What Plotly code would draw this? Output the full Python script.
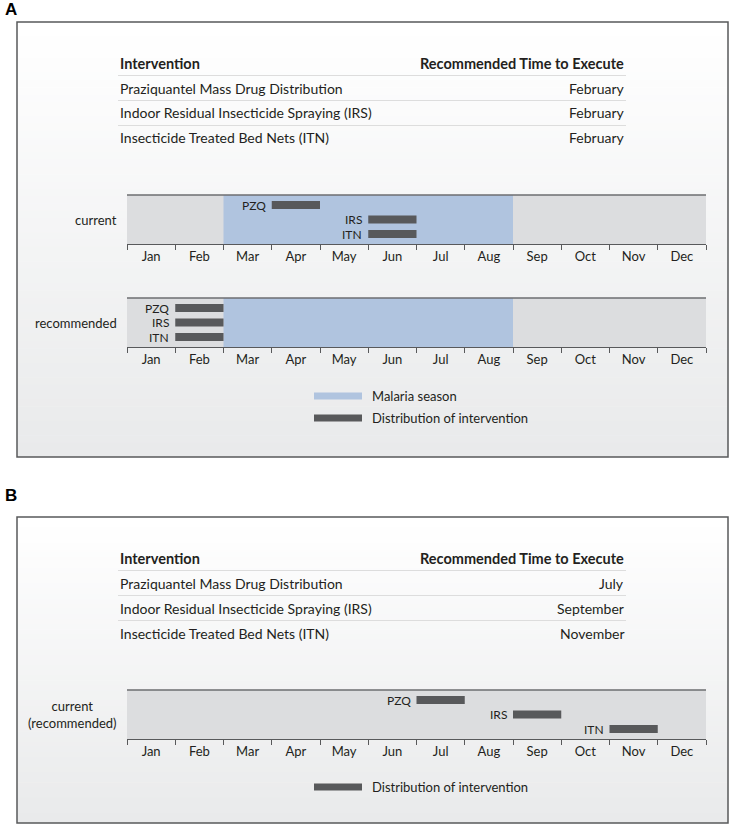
import plotly.graph_objects as go

# ---------------- data ----------------
months = ["Jan", "Feb", "Mar", "Apr", "May", "Jun", "Jul", "Aug", "Sep", "Oct", "Nov", "Dec"]
short_names = ["PZQ", "IRS", "ITN"]
intervention_names = ["Praziquantel Mass Drug Distribution",
                      "Indoor Residual Insecticide Spraying (IRS)",
                      "Insecticide Treated Bed Nets (ITN)"]
table_header = ["Intervention", "Recommended Time to Execute"]
recommended_time_A = ["February", "February", "February"]
recommended_time_B = ["July", "September", "November"]

# start month index (0 = Jan), each distribution lasts one month
start_A_current = [3, 5, 5]
start_A_recommended = [1, 1, 1]
start_B_current = [6, 8, 10]
duration = [1, 1, 1]
malaria_season = [2, 8]          # March through August

legend_A = ["Malaria season", "Distribution of intervention"]
legend_B = ["Distribution of intervention"]

# ---------------- style ----------------
W, H = 730, 826
FONT = "Lato"
TXT = "#231f20"
BAR = "#58595b"
GRAY = "#dcdddf"
BLUE = "#b0c4df"
LINE = "#58595b"


def X(px):
    return px / W


def Y(py):
    return 1 - py / H


fig = go.Figure()
shapes = []
ann = []


def panel(x0, y0, x1, y1, label, label_y):
    n = 60
    for i in range(n):
        t = i / (n - 1)
        c = [round(255 + (233 - 255) * t), round(255 + (234 - 255) * t), round(255 + (235 - 255) * t)]
        ya = y0 + (y1 - y0) * i / n
        yb = y0 + (y1 - y0) * (i + 1) / n + 0.6
        shapes.append(dict(type="rect", xref="paper", yref="paper", x0=X(x0), x1=X(x1),
                           y0=Y(ya), y1=Y(min(yb, y1)), fillcolor=f"rgb({c[0]},{c[1]},{c[2]})",
                           line=dict(width=0), layer="below"))
    shapes.append(dict(type="rect", xref="paper", yref="paper", x0=X(x0), x1=X(x1),
                       y0=Y(y0), y1=Y(y1), line=dict(color=LINE, width=1.5), layer="above"))
    ann.append(dict(text=f"<b>{label}</b>", x=X(3), y=Y(label_y), xref="paper", yref="paper",
                    xanchor="left", yanchor="middle", showarrow=False,
                    font=dict(family="Liberation Sans", size=17, color="#000")))


panel(17, 22, 728, 457, "A", 9)
panel(17, 517, 728, 823, "B", 495)


def table(header_y, times):
    ann.append(dict(text=f"<b>{table_header[0]}</b>", x=X(118), y=Y(header_y), xref="paper", yref="paper",
                    xanchor="left", yanchor="middle", showarrow=False, font=dict(family=FONT, size=14.5, color=TXT)))
    ann.append(dict(text=f"<b>{table_header[1]}</b>", x=X(626), y=Y(header_y), xref="paper", yref="paper",
                    xanchor="right", yanchor="middle", showarrow=False, font=dict(family=FONT, size=14.5, color=TXT)))
    for i, (nm, tm) in enumerate(zip(intervention_names, times)):
        ry = header_y + 25 * (i + 1)
        shapes.append(dict(type="line", xref="paper", yref="paper", x0=X(118), x1=X(626),
                           y0=Y(ry - 12.5), y1=Y(ry - 12.5), line=dict(color="#dddddd", width=1)))
        ann.append(dict(text=nm, x=X(118), y=Y(ry), xref="paper", yref="paper", xanchor="left",
                        yanchor="middle", showarrow=False, font=dict(family=FONT, size=14, color=TXT)))
        ann.append(dict(text=tm, x=X(626), y=Y(ry), xref="paper", yref="paper", xanchor="right",
                        yanchor="middle", showarrow=False, font=dict(family=FONT, size=14, color=TXT)))


table(63, recommended_time_A)
table(558, recommended_time_B)

timelines = [
    ("", 195, start_A_current, True, "current"),
    ("2", 298, start_A_recommended, True, "recommended"),
    ("3", 690, start_B_current, False, "current<br>(recommended)"),
]
layout_axes = {}
for suf, top, starts, season, rowlabel in timelines:
    bot = top + 49
    xa = "x" + suf
    ya = "y" + suf
    layout_axes["xaxis" + suf] = dict(
        domain=[X(127), X(706)], range=[0, 12], anchor=ya,
        tickmode="array", tickvals=[i + 0.5 for i in range(12)], ticktext=months, ticks="",
        showline=True, linecolor=LINE, linewidth=1.2, showgrid=False, zeroline=False, fixedrange=True,
        tickfont=dict(family=FONT, size=13, color=TXT),
        minor=dict(ticks="outside", tickmode="array", tickvals=list(range(13)), ticklen=5,
                   tickcolor=LINE, tickwidth=1, showgrid=False),
    )
    layout_axes["yaxis" + suf] = dict(domain=[Y(bot), Y(top)], range=[2.69, -0.69], anchor=xa,
                                      visible=False, fixedrange=True)
    shapes.append(dict(type="rect", xref=xa, yref=ya + " domain", x0=0, x1=12, y0=0, y1=1,
                       fillcolor=GRAY, line=dict(width=0), layer="below"))
    if season:
        shapes.append(dict(type="rect", xref=xa, yref=ya + " domain", x0=malaria_season[0],
                           x1=malaria_season[1], y0=0, y1=1, fillcolor=BLUE, line=dict(width=0), layer="below"))
    shapes.append(dict(type="line", xref=xa, yref=ya + " domain", x0=0, x1=12, y0=1, y1=1,
                       line=dict(color="#6d6e70", width=1.5)))
    fig.add_trace(go.Bar(orientation="h", base=starts, x=duration, y=[0, 1, 2], width=0.55,
                         marker=dict(color=BAR, line=dict(width=0)), xaxis=xa, yaxis=ya,
                         showlegend=False, hoverinfo="skip"))
    for i, (s, nm) in enumerate(zip(starts, short_names)):
        ann.append(dict(text=nm, x=s, y=i, xref=xa, yref=ya, xanchor="right", yanchor="middle",
                        xshift=-4, showarrow=False, font=dict(family=FONT, size=12, color=TXT)))
    ann.append(dict(text=rowlabel, x=X(119), y=Y((top + bot) / 2), xref="paper", yref="paper",
                    xanchor="right", yanchor="middle", align="center", showarrow=False,
                    font=dict(family=FONT, size=13, color=TXT)))


def legend_item(py, color, text):
    shapes.append(dict(type="rect", xref="paper", yref="paper", x0=X(314), x1=X(362),
                       y0=Y(py + 3.5), y1=Y(py - 3.5), fillcolor=color, line=dict(width=0)))
    ann.append(dict(text=text, x=X(370), y=Y(py), xref="paper", yref="paper", xanchor="left",
                    yanchor="middle", showarrow=False, font=dict(family=FONT, size=13, color=TXT)))


legend_item(396, BLUE, legend_A[0])
legend_item(418, BAR, legend_A[1])
legend_item(787, BAR, legend_B[0])

fig.update_layout(
    width=W, height=H, margin=dict(l=0, r=0, t=0, b=0),
    paper_bgcolor="white", plot_bgcolor="rgba(0,0,0,0)",
    shapes=shapes, annotations=ann, barmode="overlay", showlegend=False,
    font=dict(family=FONT, color=TXT),
    **layout_axes,
)
fig.write_html("out.html", config={"displayModeBar": False},
               post_script="document.body.style.margin='0';")
